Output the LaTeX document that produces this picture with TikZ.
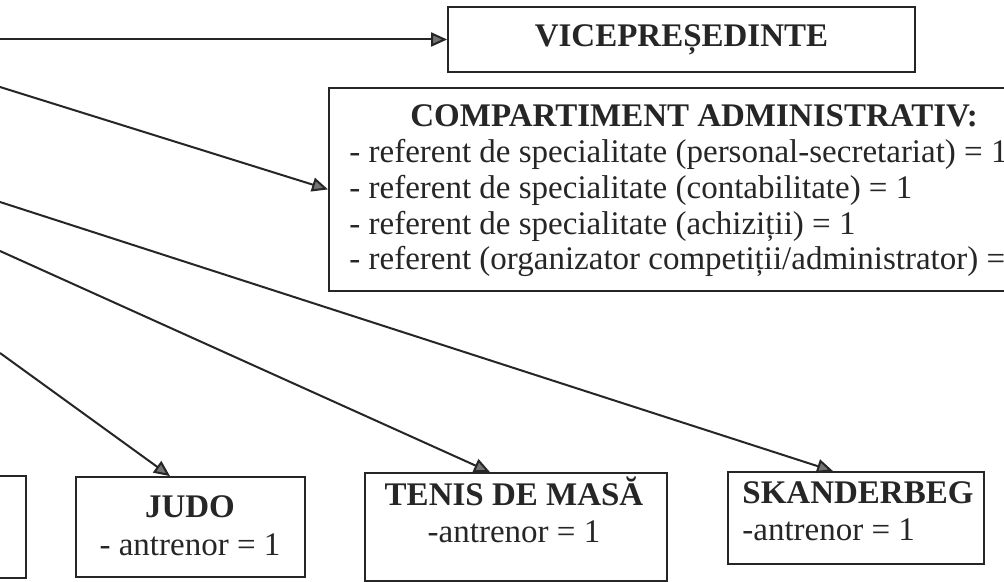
\documentclass[tikz,border=0pt]{standalone}
\usepackage{fontspec}
\setmainfont{Liberation Serif}
\usetikzlibrary{arrows.meta}

\tikzset{
  box/.style={draw=black!85, line width=0.9pt, inner sep=0pt},
  txt/.style={inner sep=0pt, text=black!85, font=\fontsize{16.5}{18.5}\selectfont},
  conn/.style={draw=black!85, line width=1pt, -{Triangle[length=8pt,width=7pt,fill=black!55]}}
}

\begin{document}
\begin{tikzpicture}[x=0.5pt,y=-0.5pt]
\clip (0,0) rectangle (1004,582);
\fill[white] (0,0) rectangle (1004,582);

\coordinate (s1) at (0,39.5);
\coordinate (s2) at (0,87);
\coordinate (s3) at (0,202);
\coordinate (s4) at (0,251);
\coordinate (s5) at (0,353);

\node[box, minimum width=233.5pt, minimum height=32.5pt, font=\fontsize{16.5}{18}\selectfont\bfseries, text=black!85] (vice) at (681.5,39.5) {VICEPREȘEDINTE};

\node[box, anchor=north west, minimum width=341pt, minimum height=101.5pt] (adm) at (328,87) {};
\node[txt, anchor=base west, align=left, font=\fontsize{16.5}{17.9}\selectfont] (admtxt) at (349,270)
  {\hspace*{30.5pt}\textbf{COMPARTIMENT ADMINISTRATIV:}\\
   - referent de specialitate (personal-secretariat) = 1\\
   - referent de specialitate (contabilitate) = 1\\
   - referent de specialitate (achiziții) = 1\\
   - referent (organizator competiții/administrator) = 1};

\node[box, anchor=north east, minimum width=60pt, minimum height=51pt] (other) at (27,475) {};
\node[box, minimum width=114.5pt, minimum height=50pt] (judo) at (190.5,527) {};
\node[box, minimum width=151pt, minimum height=54pt] (tenis) at (516,527) {};
\node[box, minimum width=128pt, minimum height=46pt] (skand) at (856,518) {};

\node[txt, align=center, anchor=base] (judotxt) at (190,555) {\textbf{JUDO}\\[0.5pt]- antrenor = 1};
\node[txt, align=center, anchor=base] (tenistxt) at (514,542) {\textbf{TENIS DE MASĂ}\\-antrenor = 1};
\node[txt, align=left, anchor=base west] (skandtxt) at (742,540) {\textbf{SKANDERBEG}\\-antrenor = 1};

% legaturi
\draw[conn] (s1) -- (vice);
\draw[conn] (s2) -- (adm.west);
\draw[conn] (s3) -- ([xshift=-11.5pt]skand.north);
\draw[conn] (s4) -- ([xshift=-13pt]tenis.north);
\draw[conn] (s5) -- ([xshift=-10.25pt]judo.north);
\end{tikzpicture}
\end{document}
